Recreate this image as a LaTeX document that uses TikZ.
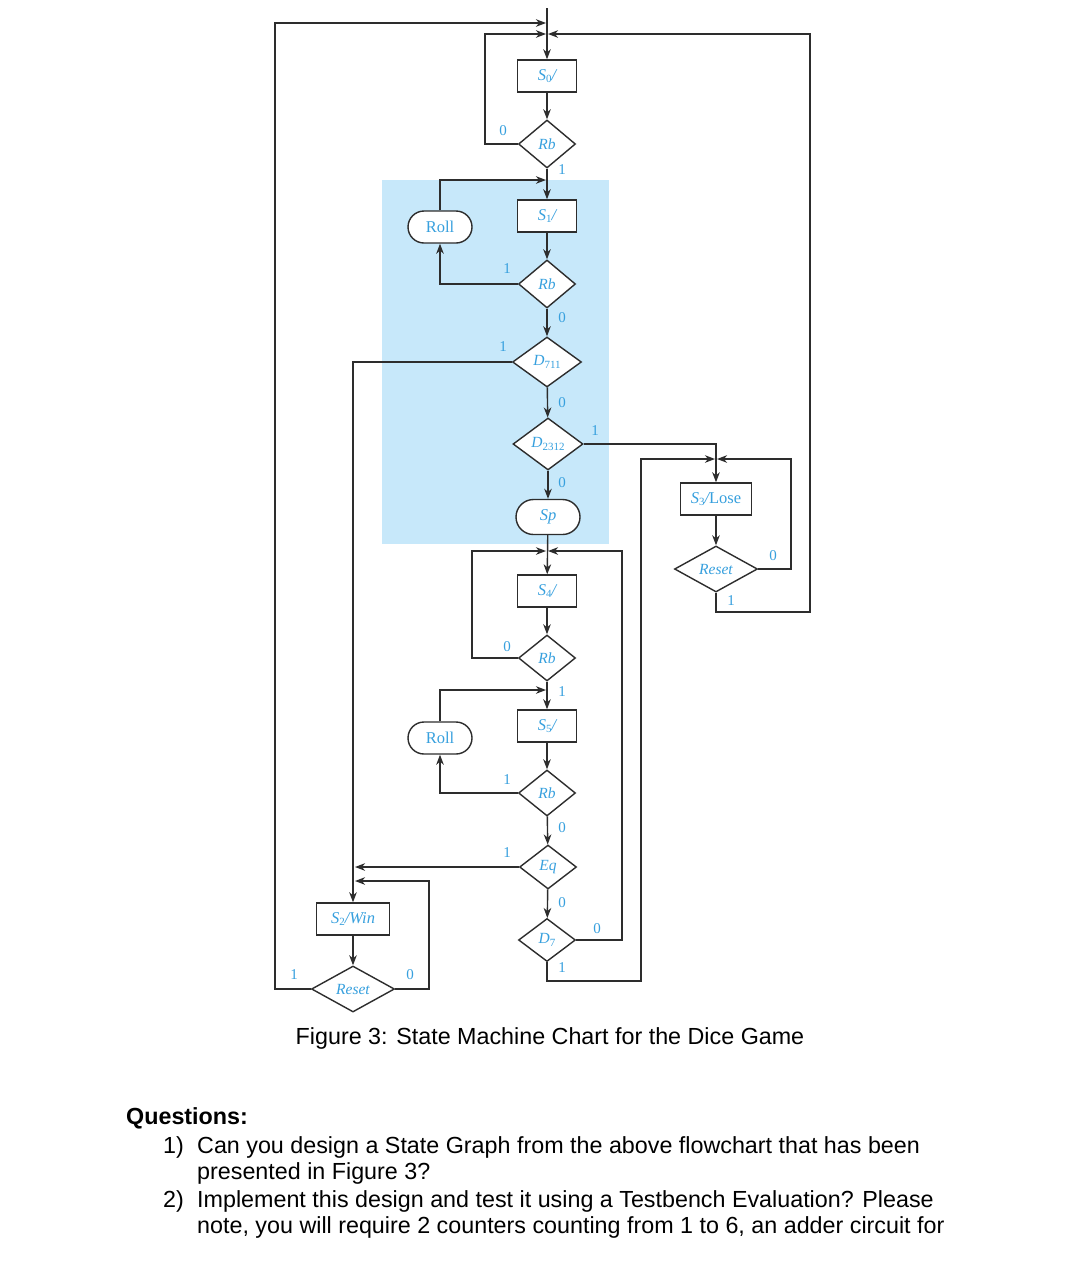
\documentclass[tikz,border=0pt]{standalone}
\usepackage{fontspec}
\setmainfont{Liberation Serif}
\newfontfamily\capfont{Liberation Sans}
\usetikzlibrary{shapes.geometric,shapes.misc,arrows.meta}
\definecolor{lblue}{RGB}{55,160,222}
\definecolor{bgblue}{RGB}{199,232,250}
\definecolor{lc}{RGB}{45,45,45}
\newcommand{\lsub}[1]{\raisebox{-0.35ex}{\upshape\fontsize{11}{11}\selectfont #1}}
\begin{document}
\begin{tikzpicture}[x=1pt,y=-1pt,
  statebox/.style={draw=lc, line width=1.4pt, fill=white, minimum width=59pt, minimum height=32pt, inner sep=0pt, text=lblue, font=\fontsize{16.5}{16.5}\selectfont\itshape},
  decis/.style={diamond, draw=lc, line width=1.4pt, fill=white, inner sep=0pt, text=lblue, minimum width=57pt, minimum height=46pt, font=\fontsize{15.5}{15.5}\selectfont\itshape},
  condout/.style={rounded rectangle, draw=lc, line width=1.4pt, fill=white, inner sep=0pt, text=lblue, minimum width=64pt, minimum height=32pt, font=\fontsize{16.5}{16.5}\selectfont},
  lbl/.style={text=lblue, inner sep=0pt, font=\fontsize{15}{15}\selectfont},
  conn/.style={draw=lc, line width=1.4pt},
  arr/.style={conn, -{Stealth[length=10pt,width=7.5pt,inset=3pt]}},
  captext/.style={inner sep=0pt, font=\capfont\fontsize{23.3}{23.3}\selectfont},
  qtext/.style={anchor=west, inner sep=0pt, font=\capfont\fontsize{23.3}{23.3}\selectfont}]
\useasboundingbox (0,0) rectangle (1092,1280);
\fill[white] (0,0) rectangle (1092,1280);
\fill[bgblue] (382,180) rectangle (609,544);

% junction coordinates
\coordinate (top) at (547,8);
\coordinate (j0a) at (547,23);
\coordinate (j0b) at (547,34);
\coordinate (j1) at (547,180);
\coordinate (j3) at (716,459);
\coordinate (j4) at (547,551);
\coordinate (j5) at (547,690);
\coordinate (jw1) at (353,867);
\coordinate (jw2) at (353,881);

% nodes
\node[statebox] (s0) at (547,76) {S\lsub{0}/};
\node[decis, minimum height=48pt] (rb0) at (547,144) {Rb};
\node[statebox] (s1) at (547,216) {S\lsub{1}/};
\node[condout] (roll1) at (440,227) {Roll};
\node[decis, minimum height=48pt] (rb1) at (547,284) {Rb};
\node[decis, minimum width=69pt, minimum height=50pt] (d711) at (547,362) {D\lsub{711}};
\node[decis, minimum width=70pt, minimum height=52pt] (d2312) at (548,444) {D\lsub{2312}};
\node[condout, minimum height=35pt] (sp) at (548,517) {\itshape Sp};
\node[statebox, minimum width=71pt] (s3) at (716,499) {S\lsub{3}/\upshape Lose};
\node[decis, minimum width=83pt] (reset1) at (716,569) {Reset};
\node[statebox] (s4) at (547,591) {S\lsub{4}/};
\node[decis] (rbC) at (547,658) {Rb};
\node[statebox] (s5) at (547,726) {S\lsub{5}/};
\node[condout] (roll2) at (440,738) {Roll};
\node[decis] (rbD) at (547,793) {Rb};
\node[decis, minimum height=44pt] (eq) at (548,867) {Eq};
\node[decis, minimum height=43pt] (d7) at (547,940) {D\lsub{7}};
\node[statebox, minimum width=73pt] (s2) at (353,919) {S\lsub{2}/Win};
\node[decis, minimum width=83pt] (reset2) at (353,989) {Reset};

% connectors
\draw[arr] (top) -- (s0.north);
\draw[arr] (reset2.west) -| (275,23) -- ([xshift=-1pt]j0a);
\draw[arr] (rb0.west) -| (485,34) -- ([xshift=-1pt]j0b);
\draw[arr] (reset1.south) |- (810,612) |- ([xshift=1pt]j0b);
\draw[arr] (s0) -- (rb0);
\draw[arr] (rb0) -- (s1);
\draw[arr] (roll1.north) |- ([xshift=-1pt]j1);
\draw[arr] (s1) -- (rb1);
\draw[arr] (rb1.west) -| (roll1.south);
\draw[arr] (rb1) -- (d711);
\draw[arr] (d711.west) -| (s2.north);
\draw[arr] (d711) -- (d2312);
\draw[arr] (d2312.east) -| (s3.north);
\draw[arr] (d2312) -- (sp);
\draw[arr] (d7.south) |- (641,981) |- ([xshift=-1pt]j3);
\draw[arr] (reset1.east) -| (791,459) -- ([xshift=1pt]j3);
\draw[arr] (s3) -- (reset1);
\draw[arr] (sp) -- (s4);
\draw[arr] (rbC.west) -| (472,551) -- ([xshift=-1pt]j4);
\draw[arr] (d7.east) -| (622,551) -- ([xshift=1pt]j4);
\draw[arr] (s4) -- (rbC);
\draw[arr] (rbC) -- (s5);
\draw[arr] (roll2.north) |- ([xshift=-1pt]j5);
\draw[arr] (s5) -- (rbD);
\draw[arr] (rbD.west) -| (roll2.south);
\draw[arr] (rbD) -- (eq);
\draw[arr] (eq.west) -- ([xshift=2pt]jw1);
\draw[arr] (reset2.east) -| (429,881) -- ([xshift=2pt]jw2);
\draw[arr] (eq) -- (d7);
\draw[arr] (s2) -- (reset2);

% branch labels
\node[lbl] (l1) at (503,131) {0};
\node[lbl] (l2) at (562,170) {1};
\node[lbl] (l3) at (507,269) {1};
\node[lbl] (l4) at (562,318) {0};
\node[lbl] (l5) at (503,347) {1};
\node[lbl] (l6) at (562,403) {0};
\node[lbl] (l7) at (595,431) {1};
\node[lbl] (l8) at (562,483) {0};
\node[lbl] (l9) at (773,556) {0};
\node[lbl] (l10) at (731,601) {1};
\node[lbl] (l11) at (507,647) {0};
\node[lbl] (l12) at (562,692) {1};
\node[lbl] (l13) at (507,780) {1};
\node[lbl] (l14) at (562,828) {0};
\node[lbl] (l15) at (507,853) {1};
\node[lbl] (l16) at (562,903) {0};
\node[lbl] (l17) at (597,929) {0};
\node[lbl] (l18) at (562,968) {1};
\node[lbl] (l19) at (294,975) {1};
\node[lbl] (l20) at (410,975) {0};

% caption and questions
\node[captext] (cap) at (550,1038) {Figure 3: State Machine Chart for the Dice Game};
\node[qtext, font=\capfont\bfseries\fontsize{23.3}{23.3}\selectfont] (q) at (126,1118) {Questions:};
\node[qtext] (n1) at (163,1147) {1)};
\node[qtext] (t1a) at (197,1147) {Can you design a State Graph from the above flowchart that has been};
\node[qtext] (t1b) at (197,1173) {presented in Figure 3?};
\node[qtext] (n2) at (163,1201) {2)};
\node[qtext] (t2a) at (197,1201) {Implement this design and test it using a Testbench Evaluation? Please};
\node[qtext] (t2b) at (197,1227) {note, you will require 2 counters counting from 1 to 6, an adder circuit for};
\end{tikzpicture}
\end{document}
